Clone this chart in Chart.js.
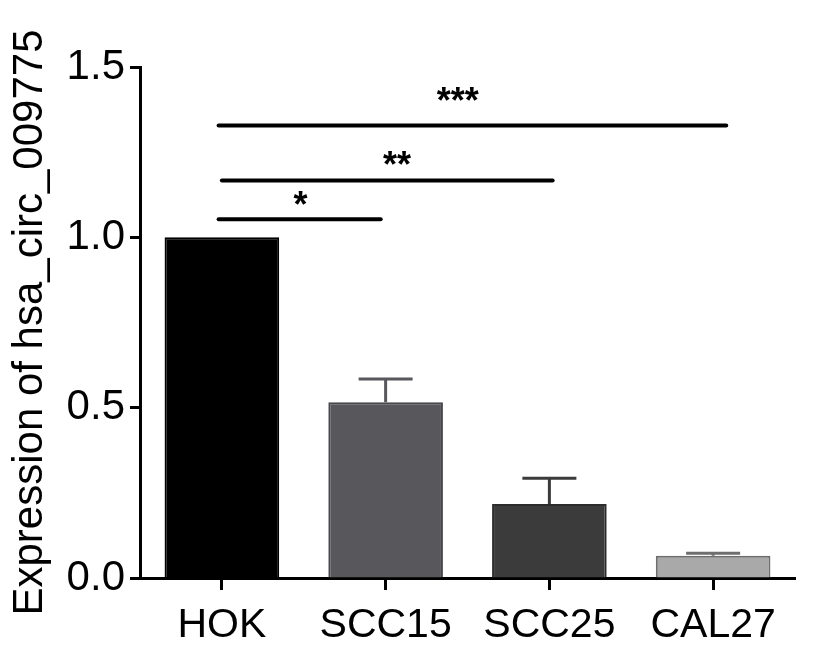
<!DOCTYPE html>
<html>
<head>
<meta charset="utf-8">
<script src="https://cdn.jsdelivr.net/npm/chart.js@4.4.0/dist/chart.umd.min.js"></script>
<style>
body { margin: 0; background: #fff; }
#wrap { width: 819px; height: 648px; }
</style>
</head>
<body>
<div id="wrap"><canvas id="expChart" width="819" height="648"></canvas></div>
<script>
/* circ_009775 expression bar chart */

const cellLines = ['HOK', 'SCC15', 'SCC25', 'CAL27'];
const expression = [1.0, 0.516, 0.217, 0.065];
const errorUp = [0, 0.068, 0.076, 0.008];
const yTicks = [0, 0.5, 1.0, 1.5];

const barColors = ['#000000', '#58575c', '#3b3b3b', '#a9a9a9'];
const edgeColors = ['#000000', '#48474c', '#2c2c2c', '#6e6e6e'];
const errColors = ['#000000', '#58575c', '#3b3b3b', '#6e6e6e'];

// significance lines (x in category index units, y in data units)
const sigFrom = [-0.02, 0, -0.02];
const sigTo = [0.97, 2.02, 3.08];
const sigLevel = [1.053, 1.167, 1.328];
const sigLabel = ['*', '**', '***'];
const sigTextX = [0.48, 1.07, 1.44];
const sigTextY = [1.108, 1.226, 1.416];

const fontFam = '"Liberation Sans", Arial, Helvetica, sans-serif';

const extrasPlugin = {
    id: 'extras',
    afterDatasetsDraw(chart) {
        const ctx = chart.ctx;
        const xs = chart.scales.x;
        const ys = chart.scales.y;
        const meta = chart.getDatasetMeta(0);
        ctx.save();
        // error bars (upper only)
        for (let i = 0; i < expression.length; i++) {
            if (!errorUp[i]) continue;
            const bar = meta.data[i];
            const x = bar.x;
            const yTop = ys.getPixelForValue(expression[i] + errorUp[i]);
            const yBase = ys.getPixelForValue(expression[i]);
            ctx.strokeStyle = errColors[i];
            ctx.lineWidth = 3;
            ctx.beginPath();
            ctx.moveTo(x, yBase);
            ctx.lineTo(x, yTop);
            ctx.moveTo(x - 27, yTop);
            ctx.lineTo(x + 27, yTop);
            ctx.stroke();
        }
        // significance lines
        ctx.strokeStyle = '#000';
        ctx.lineWidth = 4;
        ctx.lineCap = 'round';
        for (let i = 0; i < sigLevel.length; i++) {
            const y = ys.getPixelForValue(sigLevel[i]);
            ctx.beginPath();
            ctx.moveTo(xs.getPixelForValue(sigFrom[i]), y);
            ctx.lineTo(xs.getPixelForValue(sigTo[i]), y);
            ctx.stroke();
        }
        ctx.fillStyle = '#000';
        ctx.font = 'bold 36px ' + fontFam;
        ctx.textAlign = 'center';
        ctx.textBaseline = 'middle';
        for (let i = 0; i < sigLabel.length; i++) {
            ctx.fillText(sigLabel[i], xs.getPixelForValue(sigTextX[i]), ys.getPixelForValue(sigTextY[i]) + 7);
        }
        ctx.restore();
    }
};

new Chart(document.getElementById('expChart'), {
    type: 'bar',
    data: {
        labels: cellLines,
        datasets: [{
            data: expression,
            backgroundColor: barColors,
            borderColor: edgeColors,
            borderWidth: 2,
            barPercentage: 0.7,
            categoryPercentage: 1.0
        }]
    },
    options: {
        responsive: false,
        animation: false,
        layout: { padding: { top: 67, right: 24, bottom: 0, left: 0 } },
        plugins: {
            legend: { display: false },
            tooltip: { enabled: false }
        },
        scales: {
            x: {
                afterFit(scale) { scale.height = 70; },
                grid: {
                    drawOnChartArea: false,
                    drawTicks: true,
                    tickLength: 12,
                    tickWidth: 3,
                    tickColor: '#000',
                    offset: false
                },
                border: { color: '#000', width: 3 },
                ticks: {
                    color: '#000',
                    font: { family: fontFam, size: 41, lineHeight: 0.88 },
                    padding: 18,
                    maxRotation: 0
                }
            },
            y: {
                min: 0,
                max: 1.5,
                afterFit(scale) { scale.width = 140; },
                afterBuildTicks(scale) {
                    scale.ticks = yTicks.map(v => ({ value: v }));
                },
                grid: {
                    drawOnChartArea: false,
                    drawTicks: true,
                    tickLength: 10,
                    tickWidth: 3,
                    tickColor: '#000'
                },
                border: { color: '#000', width: 3 },
                ticks: {
                    color: '#000',
                    font: { family: fontFam, size: 42 },
                    padding: 5,
                    callback: v => Number(v).toFixed(1)
                },
                title: {
                    display: true,
                    text: 'Expression of hsa_circ_009775',
                    color: '#000',
                    font: { family: fontFam, size: 42 },
                    padding: { top: 5, bottom: 0 }
                }
            }
        }
    },
    plugins: [extrasPlugin]
});
</script>
</body>
</html>
